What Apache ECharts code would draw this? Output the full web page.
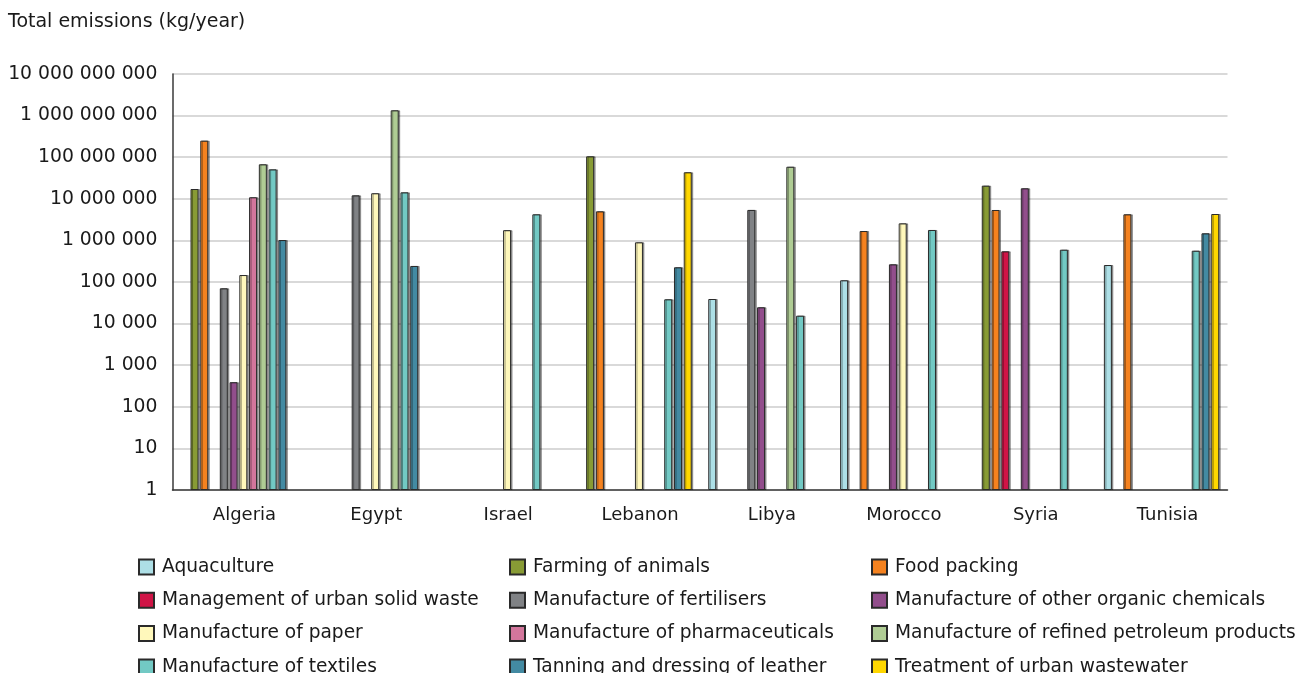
<!DOCTYPE html>
<html>
<head>
<meta charset="utf-8">
<script src="https://cdn.jsdelivr.net/npm/echarts@6/dist/echarts.min.js"></script>
<style>
html,body{margin:0;padding:0;background:#fff;}
#chart{width:1299px;height:673px;}
</style>
</head>
<body>
<div id="chart"></div>
<script>
var countries = ['Algeria', 'Egypt', 'Israel', 'Lebanon', 'Libya', 'Morocco', 'Syria', 'Tunisia'];

var seriesNames = [
  'Aquaculture', 'Farming of animals', 'Food packing',
  'Management of urban solid waste', 'Manufacture of fertilisers', 'Manufacture of other organic chemicals',
  'Manufacture of paper', 'Manufacture of pharmaceuticals', 'Manufacture of refined petroleum products',
  'Manufacture of textiles', 'Tanning and dressing of leather', 'Treatment of urban wastewater'
];

// values per country: Algeria, Egypt, Israel, Lebanon, Libya, Morocco, Syria, Tunisia
var aquaculture   = [null, null, null, null, 39000, 110000, null, 256000];
var farming       = [17200000, null, null, 105000000, null, null, 20700000, null];
var foodPacking   = [250000000, null, null, 5000000, null, 1680000, 5380000, 4240000];
var solidWaste    = [null, null, null, null, null, null, 547000, null];
var fertilisers   = [70600, 12100000, null, null, 5400000, null, null, null];
var organicChem   = [390, null, null, null, 24700, 266000, 17900000, null];
var paper         = [147000, 13600000, 1760000, 900000, null, 2570000, null, null];
var pharma        = [10900000, null, null, null, null, null, null, null];
var petroleum     = [67500000, 1340000000, null, null, 59000000, null, null, null];
var textiles      = [51000000, 14300000, 4240000, 38400, 15500, 1780000, 598000, 565000];
var tanning       = [1020000, 243000, null, 226000, null, null, null, 1480000];
var wastewater    = [null, null, null, 43400000, null, null, null, 4310000];

var seriesValues = [aquaculture, farming, foodPacking, solidWaste, fertilisers, organicChem,
                    paper, pharma, petroleum, textiles, tanning, wastewater];

var colors = ['#ADDFE6', '#889B35', '#F5821F', '#D01446', '#808285', '#924E8C',
              '#FFF8BB', '#D3769C', '#AFCC94', '#72C9C4', '#438AA2', '#FFD700'];

var yTickLabels = ['1', '10', '100', '1 000', '10 000', '100 000', '1 000 000',
                   '10 000 000', '100 000 000', '1 000 000 000', '10 000 000 000'];

var FONT = 'DejaVu Sans';
var chart = echarts.init(document.getElementById('chart'), null, {renderer: 'canvas'});

var series = seriesNames.map(function (name, i) {
  return {
    name: name,
    type: 'bar',
    barWidth: 8,
    barGap: '22%',
    data: seriesValues[i].map(function (v) { return v == null ? '-' : v; }),
    itemStyle: {
      color: colors[i],
      borderColor: '#2a2a2a',
      borderWidth: 1,
      shadowColor: 'rgba(0,0,0,0.35)',
      shadowOffsetX: 1.5,
      shadowOffsetY: 0,
      shadowBlur: 0
    },
    emphasis: {disabled: true},
    animation: false
  };
});

var legendLefts = [138, 509, 871];
var legendTops = [557.5, 590.8, 624.1, 657.4];
var legends = seriesNames.map(function (name, i) {
  return {
    left: legendLefts[i % 3],
    top: legendTops[Math.floor(i / 3)],
    padding: 0,
    itemWidth: 15,
    itemHeight: 15,
    icon: 'rect',
    selectedMode: false,
    data: [name],
    textStyle: {fontFamily: FONT, fontSize: 18.6, color: '#1a1a1a', lineHeight: 15, padding: [0, 0, 0, 3]}
  };
});

chart.setOption({
  animation: false,
  backgroundColor: '#fff',
  title: {
    text: 'Total emissions (kg/year)',
    left: 8,
    top: 13,
    padding: 0,
    textStyle: {fontFamily: FONT, fontSize: 19, fontWeight: 'normal', color: '#1a1a1a'}
  },
  legend: legends,
  grid: {left: 172.5, right: 71.5, top: 74, bottom: 183, containLabel: false},
  xAxis: {
    type: 'category',
    data: countries,
    axisTick: {show: false},
    axisLine: {lineStyle: {color: '#3a3a3a', width: 1.5}},
    axisLabel: {fontFamily: FONT, fontSize: 18, color: '#1a1a1a', margin: 16, padding: [0, 0, 0, 12]}
  },
  yAxis: {
    type: 'log',
    logBase: 10,
    min: 1,
    max: 10000000000,
    interval: 1,
    axisLine: {show: true, lineStyle: {color: '#3a3a3a', width: 1.5}},
    axisTick: {show: false},
    splitLine: {show: true, lineStyle: {color: '#cccccc', width: 1.5}},
    axisLabel: {
      fontFamily: FONT, fontSize: 18.8, color: '#1a1a1a', margin: 15,
      formatter: function (v) {
        var e = Math.round(Math.log(v) / Math.LN10);
        return yTickLabels[e] != null ? yTickLabels[e] : '';
      }
    }
  },
  series: series
});
</script>
</body>
</html>
